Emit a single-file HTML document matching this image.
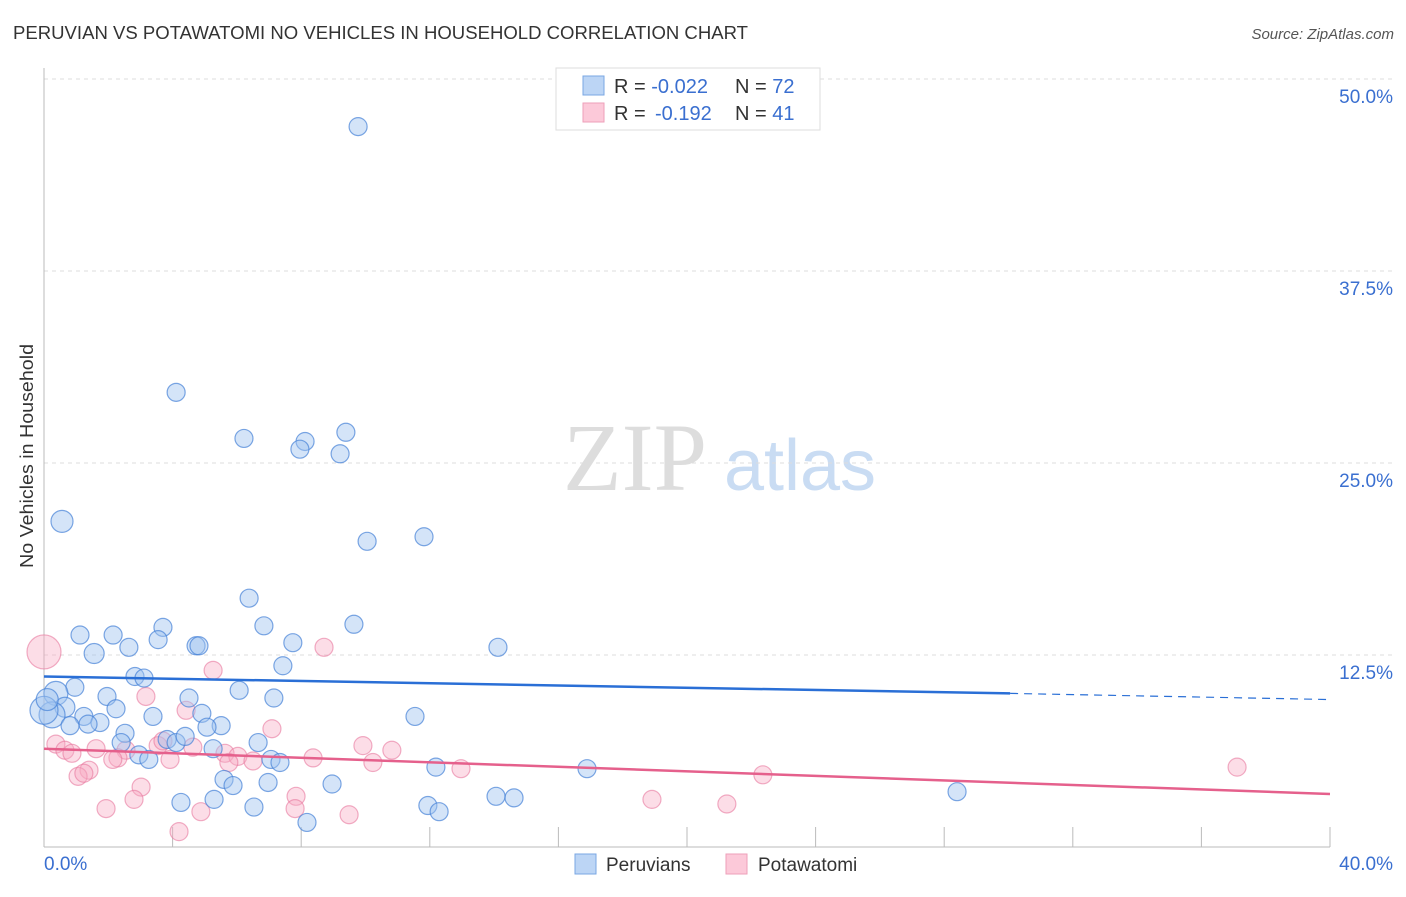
<!DOCTYPE html>
<html><head><meta charset="utf-8"><style>
body{margin:0;background:#fff;font-family:"Liberation Sans",sans-serif;}
</style></head><body>
<svg id="chart" width="1406" height="892" xmlns="http://www.w3.org/2000/svg" font-family="Liberation Sans, sans-serif">
<text x="13" y="39" font-size="18" fill="#333" textLength="735" lengthAdjust="spacingAndGlyphs">PERUVIAN VS POTAWATOMI NO VEHICLES IN HOUSEHOLD CORRELATION CHART</text>
<text x="1394" y="39" font-size="15" fill="#555" text-anchor="end" font-style="italic">Source: ZipAtlas.com</text>
<text transform="translate(33,456) rotate(-90)" font-size="18" fill="#333" text-anchor="middle" textLength="224" lengthAdjust="spacingAndGlyphs">No Vehicles in Household</text>
<g>
<text x="635" y="490" font-size="96" fill="#ddd" font-family="Liberation Serif, serif" text-anchor="middle">ZIP</text>
<text x="800" y="490" font-size="72" fill="#c9dcf3" text-anchor="middle">atlas</text>
</g>
<g id="grid"></g><g id="pts"></g><g id="lines"></g>
<g>
<rect x="556" y="68" width="264" height="62" fill="#fff" stroke="#ddd"/>
<rect x="583" y="76" width="21" height="19" fill="#bcd5f5" stroke="#7aa7e3"/>
<rect x="583" y="103" width="21" height="19" fill="#fcc9d9" stroke="#ee9fb9"/>
<text x="614" y="93" font-size="20" fill="#333">R = <tspan fill="#3a6fd0">-0.022</tspan><tspan x="735">N = </tspan><tspan fill="#3a6fd0">72</tspan></text>
<text x="614" y="120" font-size="20" fill="#333">R = <tspan x="655" fill="#3a6fd0">-0.192</tspan><tspan x="735">N = </tspan><tspan fill="#3a6fd0"> 41</tspan></text>
</g>
<g>
<rect x="575" y="854" width="21" height="20" fill="#bcd5f5" stroke="#7aa7e3"/>
<text x="606" y="871" font-size="19" fill="#333">Peruvians</text>
<rect x="726" y="854" width="21" height="20" fill="#fcc9d9" stroke="#ee9fb9"/>
<text x="758" y="871" font-size="19" fill="#333">Potawatomi</text>
</g>
</svg>
<script>
const yTicks=[12.5,25,37.5,50];
const yTickLabels=["12.5%","25.0%","37.5%","50.0%"];
const xTickLabels=["0.0%","40.0%"];
const peruX=[9.77,4.11,6.22,8.12,7.96,9.39,9.21,0.56,10.05,11.82,6.38,6.84,9.64,1.12,2.15,3.70,3.55,7.74,4.73,4.82,2.64,14.12,1.56,7.43,2.83,3.11,0.96,6.07,0.37,1.96,4.51,7.15,0.65,2.24,0.25,1.24,4.91,3.39,11.54,1.74,0.81,1.37,5.51,5.07,2.52,2.40,3.83,4.11,4.39,6.66,5.26,2.95,3.26,7.06,7.34,12.19,16.89,5.60,6.97,5.88,8.96,28.40,14.06,14.62,4.26,5.29,6.53,11.94,12.29,8.18,0,0.1];
const peruY=[46.9,29.6,26.6,26.4,25.9,27.0,25.6,21.2,19.9,20.2,16.2,14.4,14.5,13.8,13.8,14.3,13.5,13.3,13.1,13.1,13.0,13.0,12.6,11.8,11.1,11.0,10.4,10.2,10.0,9.8,9.7,9.7,9.1,9.0,8.6,8.5,8.7,8.5,8.5,8.1,7.9,8.0,7.9,7.8,7.4,6.8,7.0,6.8,7.2,6.8,6.4,6.0,5.7,5.7,5.5,5.2,5.1,4.4,4.2,4.0,4.1,3.6,3.3,3.2,2.9,3.1,2.6,2.7,2.3,1.6,8.9,9.6];
const peruR=[9,9,9,9,9,9,9,11,9,9,9,9,9,9,9,9,9,9,9,9,9,9,10,9,9,9,9,9,12,9,9,9,10,9,13,9,9,9,9,9,9,9,9,9,9,9,9,9,9,9,9,9,9,9,9,9,9,9,9,9,9,9,9,9,9,9,9,9,9,9,14,11];
const potaX=[0,8.71,5.26,3.17,4.42,7.09,9.92,10.82,0.37,0.65,0.87,1.62,2.55,3.55,3.70,4.63,5.63,6.03,2.30,2.14,3.92,5.75,8.37,10.23,12.97,1.40,1.06,1.24,22.36,37.11,3.02,2.80,7.84,1.93,4.88,7.81,9.49,18.91,21.24,4.20,6.5];
const potaY=[12.7,13.0,11.5,9.8,8.9,7.7,6.6,6.3,6.7,6.3,6.1,6.4,6.3,6.6,6.9,6.5,6.1,5.9,5.8,5.7,5.7,5.5,5.8,5.5,5.1,5.0,4.6,4.8,4.7,5.2,3.9,3.1,3.3,2.5,2.3,2.5,2.1,3.1,2.8,1.0,5.6];
const potaR=[17,9,9,9,9,9,9,9,9,9,9,9,9,9,9,9,9,9,9,9,9,9,9,9,9,9,9,9,9,9,9,9,9,9,9,9,9,9,9,9,9];
const peruTrend=[[0,11.1],[30.05,10.0],[40,9.6]];
const potaTrend=[[0,6.4],[40,3.45]];
const NS="http://www.w3.org/2000/svg";
const X=v=>44+v*(1286/40), Y=v=>847-v*15.36;
function mk(t,a,p){const e=document.createElementNS(NS,t);for(const k in a)e.setAttribute(k,a[k]);(p||document.getElementById('chart')).appendChild(e);return e;}
const g=document.getElementById('grid');
yTicks.forEach((t,i)=>{
 const l=mk('line',{x1:44,x2:1394,y1:Y(t),y2:Y(t),stroke:'#ddd','stroke-dasharray':'4,4'},g);
 
 
 const tx=mk('text',{x:1393,y:Y(t)+24,'font-size':19,fill:'#3a6fd0','text-anchor':'end'},g);
 tx.textContent=yTickLabels[i];
 
 
});
for(let v=0;v<=40;v+=4){
 const l=mk('line',{x1:X(v),x2:X(v),y1:827,y2:847,stroke:'#bbb'},g);
 
 
}
const ax=mk('line',{x1:44,x2:44,y1:68,y2:847,stroke:'#bbb'},g);


const bx=mk('line',{x1:44,x2:1330,y1:847,y2:847,stroke:'#bbb'},g);


[[0,'start'],[40,'end']].forEach((p,i)=>{
 const tx=mk('text',{x:i?1393:44,y:870,'font-size':19,fill:'#3a6fd0','text-anchor':p[1]},g);
 tx.textContent=xTickLabels[i];
 
 
});
const pg=document.getElementById('pts');
potaX.forEach((x,i)=>{
 const c=mk('circle',{cx:X(x),cy:Y(potaY[i]),r:potaR[i],fill:'rgba(247,170,196,0.4)',stroke:'rgba(232,120,158,0.6)','stroke-width':1.2},pg);
 
 
});
peruX.forEach((x,i)=>{
 const c=mk('circle',{cx:X(x),cy:Y(peruY[i]),r:peruR[i],fill:'rgba(160,196,240,0.45)',stroke:'rgba(70,130,215,0.7)','stroke-width':1.2},pg);
 
 
});
const lg=document.getElementById('lines');
const t1=mk('line',{x1:X(peruTrend[0][0]),y1:Y(peruTrend[0][1]),x2:X(peruTrend[1][0]),y2:Y(peruTrend[1][1]),stroke:'#2a6fd6','stroke-width':2.5},lg);


const t2=mk('line',{x1:X(peruTrend[1][0]),y1:Y(peruTrend[1][1]),x2:X(peruTrend[2][0]),y2:Y(peruTrend[2][1]),stroke:'#2a6fd6','stroke-width':1.2,'stroke-dasharray':'8,6'},lg);


const t3=mk('line',{x1:X(potaTrend[0][0]),y1:Y(potaTrend[0][1]),x2:X(potaTrend[1][0]),y2:Y(potaTrend[1][1]),stroke:'#e5608c','stroke-width':2.5},lg);


</script>
</body></html>
